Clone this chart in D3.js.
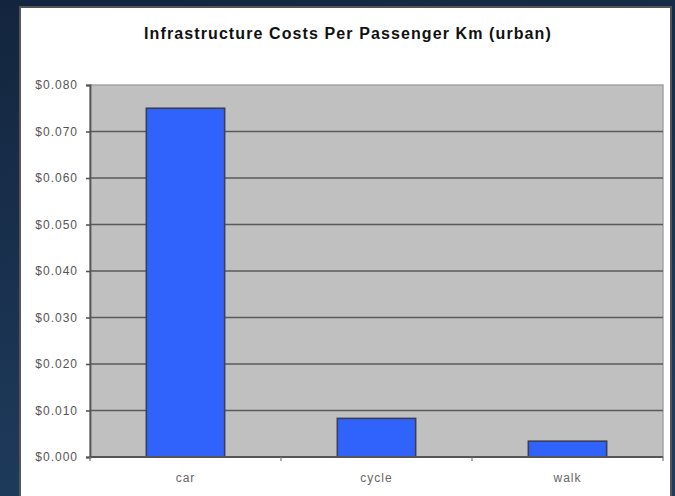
<!DOCTYPE html>
<html>
<head>
<meta charset="utf-8">
<script src="https://cdn.jsdelivr.net/npm/d3@7"></script>
<style>
  html, body { margin: 0; padding: 0; background: #162a45; }
  svg { display: block; }
</style>
</head>
<body>
<svg id="chart" width="675" height="496"></svg>
<script>
// Infrastructure cost per passenger km, urban travel modes
const categories = ["car", "cycle", "walk"];
const costs = [0.075, 0.0083, 0.0034];
const yTicks = [0, 0.01, 0.02, 0.03, 0.04, 0.05, 0.06, 0.07, 0.08];
const title = "Infrastructure Costs Per Passenger Km (urban)";

const W = 675, H = 496;
const svg = d3.select("#chart");
const defs = svg.append("defs");

// dark navy backdrop, slightly lighter toward the lower left
const bg = defs.append("linearGradient").attr("id", "bg")
  .attr("x1", 0).attr("y1", 0).attr("x2", 0.3).attr("y2", 1);
bg.append("stop").attr("offset", 0).attr("stop-color", "#13253e");
bg.append("stop").attr("offset", 1).attr("stop-color", "#1f3c5e");
svg.append("rect").attr("width", W).attr("height", H).attr("fill", "url(#bg)");

// white chart panel with a thin shadowed edge
svg.append("rect").attr("x", 19).attr("y", 6).attr("width", 653).attr("height", 495)
  .attr("fill", "#555");
svg.append("rect").attr("x", 21).attr("y", 8).attr("width", 649).attr("height", 495)
  .attr("fill", "#ffffff");

const plot = { left: 90, right: 663, top: 85, bottom: 457 };

const x = d3.scaleBand().domain(categories)
  .range([plot.left, plot.right]).paddingInner(0.59).paddingOuter(0.295);
const xb = d3.scaleBand().domain(categories).range([plot.left, plot.right]);
const y = d3.scaleLinear().domain([0, 0.08]).range([plot.bottom, plot.top]);

// plot background
svg.append("rect")
  .attr("x", plot.left).attr("y", plot.top)
  .attr("width", plot.right - plot.left).attr("height", plot.bottom - plot.top)
  .attr("fill", "#c0c0c0").attr("stroke", "#a4a4a4").attr("stroke-width", 1.5);

// horizontal gridlines
svg.append("g").selectAll("line")
  .data(yTicks.filter(d => d > 0 && d < 0.08))
  .join("line")
  .attr("x1", plot.left).attr("x2", plot.right)
  .attr("y1", d => y(d)).attr("y2", d => y(d))
  .attr("stroke", "#5a5a5a").attr("stroke-width", 1.6);

// bars
svg.append("g").selectAll("rect")
  .data(categories.map((c, i) => ({ c, v: costs[i] })))
  .join("rect")
  .attr("x", d => x(d.c))
  .attr("y", d => y(d.v))
  .attr("width", x.bandwidth())
  .attr("height", d => y(0) - y(d.v))
  .attr("fill", "#3062fc")
  .attr("stroke", "#3a3f55").attr("stroke-width", 1.6);

const labelFont = "'Liberation Sans Narrow', 'Liberation Sans', Arial, sans-serif";

// y axis
const yAxis = svg.append("g")
  .attr("transform", `translate(${plot.left},0)`)
  .call(d3.axisLeft(y).tickValues(yTicks).tickFormat(d3.format("$.3f"))
    .tickSize(4).tickPadding(8));
yAxis.select(".domain").attr("stroke", "#555").attr("stroke-width", 1.8);
yAxis.selectAll(".tick line").attr("stroke", "#555").attr("stroke-width", 1.6);
yAxis.selectAll(".tick text")
  .attr("fill", "#555")
  .style("font-family", labelFont)
  .style("font-size", "12px")
  .style("letter-spacing", "1px");

// x axis with ticks at band boundaries
const xAxis = svg.append("g")
  .attr("transform", `translate(0,${plot.bottom})`);
xAxis.append("line")
  .attr("x1", plot.left).attr("x2", plot.right)
  .attr("stroke", "#555").attr("stroke-width", 1.8);
xAxis.selectAll("line.tk")
  .data(categories.map(c => xb(c)).concat([plot.right]))
  .join("line").attr("class", "tk")
  .attr("x1", d => d).attr("x2", d => d)
  .attr("y1", 0).attr("y2", 4)
  .attr("stroke", "#777").attr("stroke-width", 1.2);
xAxis.selectAll("text")
  .data(categories)
  .join("text")
  .attr("x", d => xb(d) + xb.bandwidth() / 2)
  .attr("y", 25)
  .attr("text-anchor", "middle")
  .attr("fill", "#666")
  .style("font-family", labelFont)
  .style("font-size", "12px")
  .style("letter-spacing", "1px")
  .text(d => d);

// title
svg.append("text")
  .attr("x", 348).attr("y", 39)
  .attr("text-anchor", "middle")
  .attr("fill", "#111")
  .style("font-family", "'Liberation Sans', Arial, sans-serif")
  .style("font-weight", "bold")
  .style("font-size", "16px")
  .style("letter-spacing", "1.1px")
  .text(title);
</script>
</body>
</html>
